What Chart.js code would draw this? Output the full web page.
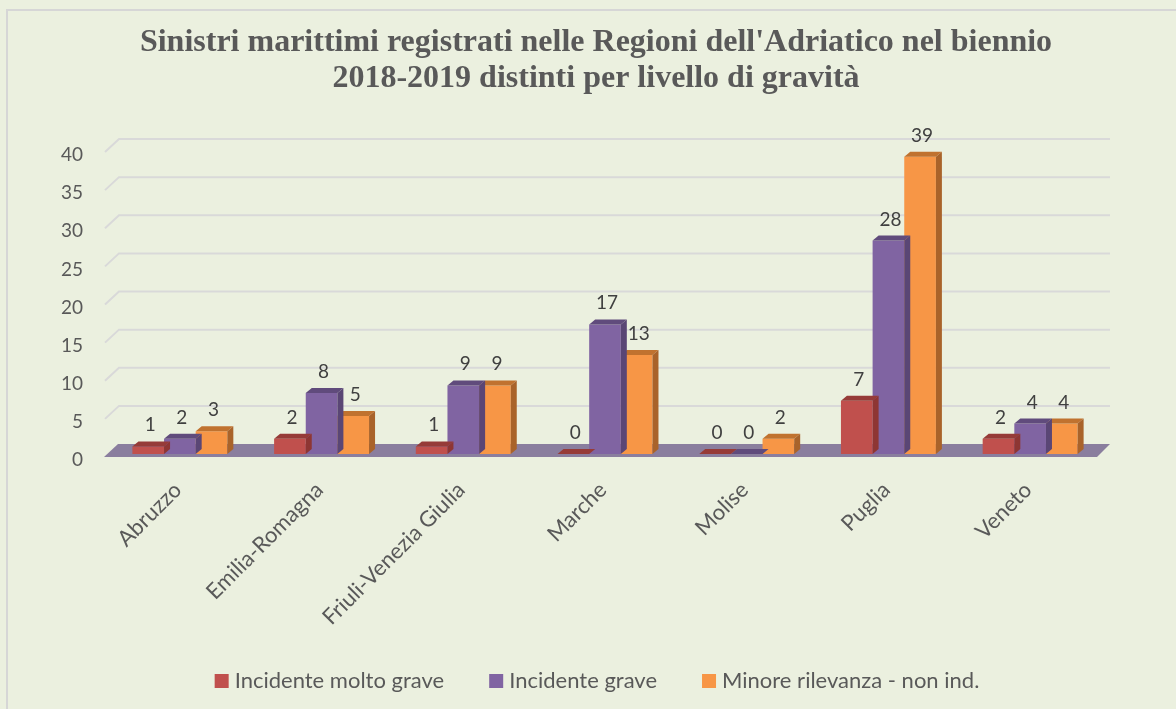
<!DOCTYPE html>
<html>
<head>
<meta charset="utf-8">
<script src="https://cdn.jsdelivr.net/npm/chart.js@4.4.0/dist/chart.umd.min.js"></script>
<style>
  html, body { margin: 0; padding: 0; background: #EBF0DF; }
  #cornice { position: absolute; left: 6px; top: 9px; width: 1200px; height: 720px;
             border-left: 2px solid #D6D6D6; border-top: 2px solid #D6D6D6; }
  #box { position: absolute; left: 0; top: 0; width: 1176px; height: 709px; }
</style>
</head>
<body>
<div id="cornice"></div>
<div id="box"><canvas id="grafico"></canvas></div>
<script>
const regioni = ["Abruzzo", "Emilia-Romagna", "Friuli-Venezia Giulia", "Marche", "Molise", "Puglia", "Veneto"];
const moltoGrave = [1, 2, 1, 0, 0, 7, 2];
const grave = [2, 8, 9, 17, 0, 28, 4];
const minoreRilevanza = [3, 5, 9, 13, 2, 39, 4];
const maxY = 40;
const passoY = 5;

const titolo = ["Sinistri marittimi registrati nelle Regioni dell'Adriatico nel biennio",
                "2018-2019 distinti per livello di gravità"];

// profondita' finta per l'effetto 3D
const BAR_DX = 6, BAR_DY = 5;

const barre3d = {
  id: "barre3d",
  beforeDatasetsDraw(chart) {
    const { ctx, chartArea: a, scales: { y } } = chart;
    ctx.save();
    // linee della griglia sul fondo
    ctx.strokeStyle = "#D9D9D9";
    ctx.lineWidth = 2;
    y.ticks.forEach(t => {
      if (t.value === 0) return;
      const py = y.getPixelForValue(t.value);
      ctx.beginPath();
      ctx.moveTo(a.left - 4, py + 3);
      ctx.lineTo(a.left + 10, py - 10);
      ctx.lineTo(a.right + 9, py - 10);
      ctx.stroke();
    });
    // pavimento
    const y0 = y.getPixelForValue(0);
    ctx.fillStyle = "#8A7E9E";
    ctx.beginPath();
    ctx.moveTo(a.left - 5, y0 + 3);
    ctx.lineTo(a.right - 4, y0 + 3);
    ctx.lineTo(a.right + 9, y0 - 10);
    ctx.lineTo(a.left + 9, y0 - 10);
    ctx.closePath();
    ctx.fill();
    ctx.restore();
  },
  afterDatasetDraw(chart, args) {
    const ctx = chart.ctx;
    const ds = chart.data.datasets[args.index];
    ctx.save();
    args.meta.data.forEach(bar => {
      const { x, y, width, base } = bar.getProps(["x", "y", "width", "base"], true);
      const x0 = x - width / 2, x1 = x + width / 2;
      ctx.fillStyle = ds.coloreSopra;
      ctx.beginPath();
      ctx.moveTo(x0, y);
      ctx.lineTo(x1, y);
      ctx.lineTo(x1 + BAR_DX, y - BAR_DY);
      ctx.lineTo(x0 + BAR_DX, y - BAR_DY);
      ctx.closePath();
      ctx.fill();
      ctx.fillStyle = ds.coloreLato;
      ctx.beginPath();
      ctx.moveTo(x1, y);
      ctx.lineTo(x1 + BAR_DX, y - BAR_DY);
      ctx.lineTo(x1 + BAR_DX, base - BAR_DY);
      ctx.lineTo(x1, base);
      ctx.closePath();
      ctx.fill();
    });
    ctx.restore();
  },
  afterDatasetsDraw(chart) {
    const ctx = chart.ctx;
    ctx.save();
    ctx.font = "19px Lato";
    ctx.fillStyle = "#404040";
    ctx.textAlign = "center";
    ctx.textBaseline = "alphabetic";
    chart.data.datasets.forEach((ds, i) => {
      chart.getDatasetMeta(i).data.forEach((bar, j) => {
        ctx.fillText(ds.data[j], bar.x + 2, bar.y - 15);
      });
    });
    ctx.restore();
  }
};

// legenda disegnata a mano (quadratini + testo) centrata sotto il grafico
const legenda = {
  id: "legenda",
  afterDraw(chart) {
    const ctx = chart.ctx;
    const ds = chart.data.datasets;
    ctx.save();
    ctx.font = "22px Lato";
    ctx.textBaseline = "middle";
    ctx.textAlign = "left";
    const box = 14, gapTesto = 6, gapVoci = 45;
    const larghezze = ds.map(d => ctx.measureText(d.label).width);
    const totale = larghezze.reduce((s, w) => s + box + gapTesto + w, 0) + gapVoci * (ds.length - 1);
    let x = 597 - totale / 2;
    const yc = 681;
    ds.forEach((d, i) => {
      ctx.fillStyle = d.backgroundColor;
      ctx.fillRect(x, yc - box / 2, box, box);
      ctx.fillStyle = "#595959";
      ctx.fillText(d.label, x + box + gapTesto, yc);
      x += box + gapTesto + larghezze[i] + gapVoci;
    });
    ctx.restore();
  }
};

new Chart(document.getElementById("grafico"), {
  type: "bar",
  data: {
    labels: regioni,
    datasets: [
      { label: "Incidente molto grave", data: moltoGrave, backgroundColor: "#C0504D",
        coloreSopra: "#963B38", coloreLato: "#8E3633" },
      { label: "Incidente grave", data: grave, backgroundColor: "#8064A2",
        coloreSopra: "#604B7C", coloreLato: "#5A4675" },
      { label: "Minore rilevanza - non ind.", data: minoreRilevanza, backgroundColor: "#F79646",
        coloreSopra: "#C0722F", coloreLato: "#A9632A" }
    ]
  },
  options: {
    responsive: true,
    maintainAspectRatio: false,
    animation: false,
    categoryPercentage: 0.67,
    barPercentage: 1,
    layout: { padding: { left: 16, right: 0, top: 10, bottom: 10 } },
    plugins: {
      title: {
        display: true,
        text: titolo,
        color: "#595959",
        font: { family: "Liberation Serif", size: 32, weight: "bold", lineHeight: 1.125 },
        padding: { top: 15, bottom: 52 }
      },
      legend: { display: false },
      tooltip: { enabled: false }
    },
    scales: {
      x: {
        grid: { display: false },
        border: { display: false },
        ticks: {
          color: "#595959",
          font: { family: "Lato", size: 22 },
          minRotation: 45,
          maxRotation: 45,
          labelOffset: -2,
          padding: 15
        },
        afterFit(s) { s.height = 245; }
      },
      y: {
        min: 0,
        max: maxY,
        grid: { display: false },
        border: { display: false },
        ticks: {
          stepSize: passoY,
          color: "#595959",
          font: { family: "Lato", size: 19 },
          padding: 18,
          labelOffset: 6
        },
        afterFit(s) { s.width = 93; }
      },
      destra: {
        type: "linear",
        position: "right",
        grid: { display: false },
        border: { display: false },
        ticks: { display: false },
        afterFit(s) { s.width = 75; }
      }
    }
  },
  plugins: [barre3d, legenda]
});
</script>
</body>
</html>
